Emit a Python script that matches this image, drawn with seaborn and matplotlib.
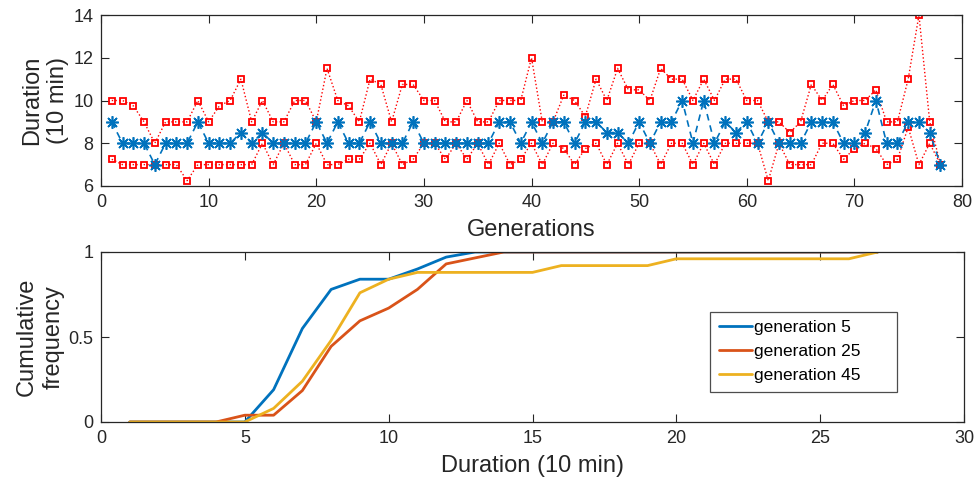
import numpy as np
import pandas as pd
import matplotlib
matplotlib.use("Agg")
import matplotlib.pyplot as plt
import seaborn as sns

# ---- data: top panel (duration per generation, units of 10 min) ----
generations = list(range(1, 79))
upper = [10, 10, 9.75, 9, 8, 9, 9, 9, 10, 9,
         9.75, 10, 11, 9, 10, 9, 9, 10, 10, 9,
         11.5, 10, 9.75, 9, 11, 10.75, 9, 10.75, 10.75, 10,
         10, 9, 9, 10, 9, 9, 10, 10, 10, 12,
         9, 9, 10.25, 10, 9.25, 11, 10, 11.5, 10.5, 10.5,
         10, 11.5, 11, 11, 10, 11, 10, 11, 11, 10,
         10, 9, 9, 8.5, 9, 10.75, 10, 10.75, 9.75, 10,
         10, 10.5, 9, 9, 11, 14, 9, 7]
median = [9, 8, 8, 8, 7, 8, 8, 8, 9, 8,
          8, 8, 8.5, 8, 8.5, 8, 8, 8, 8, 9,
          8, 9, 8, 8, 9, 8, 8, 8, 9, 8,
          8, 8, 8, 8, 8, 8, 9, 9, 8, 9,
          8, 9, 9, 8, 9, 9, 8.5, 8.5, 8, 9,
          8, 9, 9, 10, 8, 10, 8, 9, 8.5, 9,
          8, 9, 8, 8, 8, 9, 9, 9, 8, 8,
          8.5, 10, 8, 8, 9, 9, 8.5, 7]
lower = [7.25, 7, 7, 7, 7, 7, 7, 6.25, 7, 7,
         7, 7, 7, 7, 8, 7, 8, 7, 7, 8,
         7, 7, 7.25, 7.25, 8, 7, 8, 7, 7.25, 8,
         8, 7.25, 8, 7.25, 8, 7, 8, 7, 7.25, 8,
         7, 8, 7.75, 7, 7.75, 8, 7, 8, 7, 8,
         8, 7, 8, 8, 7, 8, 7, 8, 8, 8,
         8, 6.25, 8, 7, 7, 7, 8, 8, 7.25, 7.75,
         8, 7.75, 7, 7.25, 8.75, 7, 8, 7]

# ---- data: bottom panel (cumulative frequency of duration) ----
durations = list(range(1, 28))
cdf_gen5 = [0, 0, 0, 0, 0, 0.19, 0.55, 0.78, 0.84, 0.84,
            0.90, 0.97, 1, 1, 1, 1, 1, 1, 1, 1,
            1, 1, 1, 1, 1, 1, 1]
cdf_gen25 = [0, 0, 0, 0, 0.04, 0.04, 0.185, 0.445, 0.595, 0.67,
             0.78, 0.93, 0.965, 1, 1, 1, 1, 1, 1, 1,
             1, 1, 1, 1, 1, 1, 1]
cdf_gen45 = [0, 0, 0, 0, 0, 0.08, 0.24, 0.48, 0.76, 0.84,
             0.88, 0.88, 0.88, 0.88, 0.88, 0.92, 0.92, 0.92, 0.92, 0.96,
             0.96, 0.96, 0.96, 0.96, 0.96, 0.96, 1]
series_labels = ["generation 5", "generation 25", "generation 45"]

sns.set_theme(style="white")
plt.rcParams["font.family"] = ["Liberation Sans", "DejaVu Sans"]

AX_COL = "#262626"
LABEL_FS = 17
TICK_FS = 13
fig = plt.figure(figsize=(9.75, 4.79), dpi=100)
ax1 = fig.add_axes([101 / 975, 1 - 186 / 479, (962 - 101) / 975, (186 - 15) / 479])
ax2 = fig.add_axes([101 / 975, 1 - 422 / 479, (964 - 101) / 975, (422 - 252) / 479])

# top panel
sns.lineplot(x=generations, y=upper, ax=ax1, color="red", linestyle=":",
             linewidth=1.0, marker="s", markersize=4.5, markerfacecolor="none",
             markeredgecolor="red", markeredgewidth=1.3)
sns.lineplot(x=generations, y=lower, ax=ax1, color="red", linestyle=":",
             linewidth=1.0, marker="s", markersize=4.5, markerfacecolor="none",
             markeredgecolor="red", markeredgewidth=1.3)
sns.lineplot(x=generations, y=median, ax=ax1, color="#0072BD", linestyle=(0, (4, 3)),
             linewidth=1.2, marker=(8, 2, 0), markersize=9,
             markeredgecolor="#0072BD", markeredgewidth=1.2)
ax1.set_xlim(0, 80)
ax1.set_ylim(6, 14)
ax1.set_xticks(range(0, 81, 10))
ax1.set_yticks([6, 8, 10, 12, 14])
ax1.set_xlabel("Generations", fontsize=LABEL_FS, color=AX_COL, labelpad=6)
ax1.set_ylabel("Duration\n(10 min)", fontsize=LABEL_FS, color=AX_COL, labelpad=3,
               linespacing=1.25)

# bottom panel
colors = ["#0072BD", "#D95319", "#EDB120"]
for ys, lab, c in zip([cdf_gen5, cdf_gen25, cdf_gen45], series_labels, colors):
    sns.lineplot(x=durations, y=ys, ax=ax2, color=c, linewidth=2.0, label=lab)
ax2.set_xlim(0, 30)
ax2.set_ylim(0, 1)
ax2.set_xticks(range(0, 31, 5))
ax2.set_yticks([0, 0.5, 1])
ax2.set_yticklabels(["0", "0.5", "1"])
ax2.set_xlabel("Duration (10 min)", fontsize=LABEL_FS, color=AX_COL, labelpad=6)
ax2.set_ylabel("Cumulative\nfrequency", fontsize=LABEL_FS, color=AX_COL, labelpad=3,
               linespacing=1.25)
leg = ax2.legend(loc="lower left", bbox_to_anchor=(0.706, 0.178, 0.216, 0.481),
                 mode="expand", fontsize=12.5, frameon=True, fancybox=False,
                 framealpha=1, edgecolor="#4d4d4d", handlelength=1.9,
                 handletextpad=0.1, borderpad=0.5, labelspacing=0.5,
                 borderaxespad=0)
leg.get_frame().set_linewidth(0.9)
for t in leg.get_texts():
    t.set_color("black")

for ax in (ax1, ax2):
    for s in ax.spines.values():
        s.set_visible(True)
        s.set_color(AX_COL)
        s.set_linewidth(0.9)
    ax.tick_params(direction="in", length=6, width=0.8, colors=AX_COL,
                   labelsize=TICK_FS, top=True, right=True, bottom=True, left=True,
                   pad=5.5)
    ax.grid(False)

fig.savefig("out.png", dpi=100)
